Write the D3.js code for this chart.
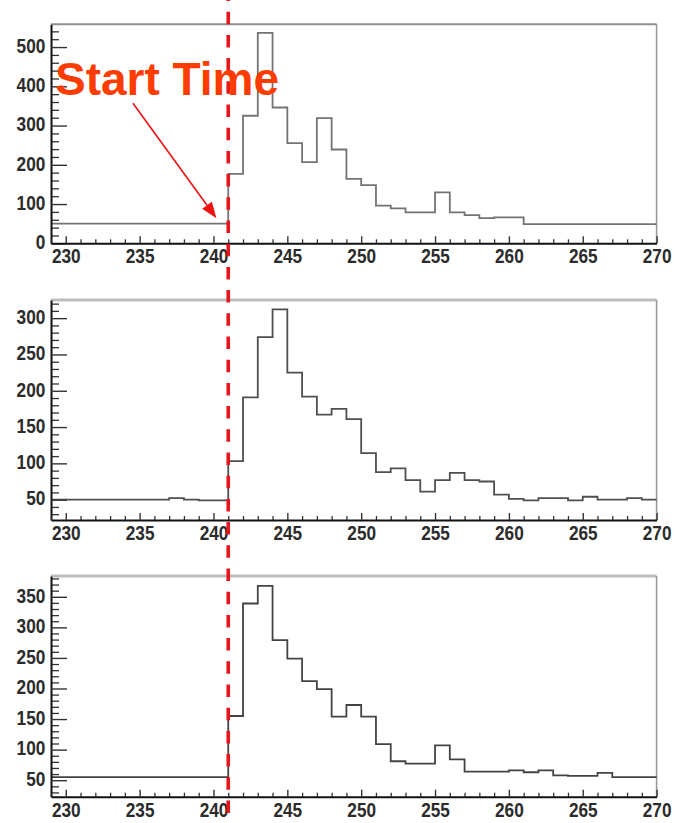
<!DOCTYPE html>
<html>
<head>
<meta charset="utf-8">
<script src="https://cdn.jsdelivr.net/npm/d3@7"></script>
<style>
  body { margin: 0; background: #fff; }
  svg { display: block; }
  .tick text { font-family: "Liberation Sans", Arial, sans-serif; font-weight: bold; font-size: 21px; fill: #2b2b2b; }
</style>
</head>
<body>
<svg id="chart" width="675" height="823"></svg>
<script>
// Time bins (lower edges), one unit wide, from 229 to 270
const binLow = d3.range(229, 270);
const xTicks = [230, 235, 240, 245, 250, 255, 260, 265, 270];

// Counts per bin, three channels
const countsA = [50,50,50,50,50,50,50,50,50,50,50,50,
  177,325,536,346,255,207,319,239,164,148,
  96,89,79,79,130,79,72,64,66,66,
  49,49,49,49,49,49,49,49,49];
const countsB = [50,50,50,50,50,50,50,50,52,50,49,49,
  103,191,274,312,225,192,167,175,161,114,
  88,93,77,61,77,87,77,75,57,51,
  49,52,52,49,54,50,50,52,50];
const countsC = [55,55,55,55,55,55,55,55,55,55,55,55,
  155,339,368,279,249,212,199,154,173,154,
  109,81,77,77,107,84,64,64,64,66,
  63,66,58,57,57,62,55,55,55];

// Y tick labels per channel
const yTicksA = [0, 100, 200, 300, 400, 500];
const yTicksB = [50, 100, 150, 200, 250, 300];
const yTicksC = [50, 100, 150, 200, 250, 300, 350];

const startTime = 241;
const startLabel = "Start Time";

const svg = d3.select("#chart");
const x = d3.scaleLinear().domain([229, 270]).range([51, 656.6]);

const panels = [
  { values: countsA, ticks: yTicksA, domain: [0, 558], top: 24.3, bottom: 243.3, minor: 20,
    line: "#737373", topColor: "#8f8f8f", topWidth: 2 },
  { values: countsB, ticks: yTicksB, domain: [22, 325], top: 300, bottom: 520, minor: 10,
    line: "#4f4f4f", topColor: "#bdbdbd", topWidth: 3 },
  { values: countsC, ticks: yTicksC, domain: [23, 384], top: 576, bottom: 796.7, minor: 10,
    line: "#444444", topColor: "#bdbdbd", topWidth: 3 }
];

const scales = [];

panels.forEach(p => {
  const y = d3.scaleLinear().domain(p.domain).range([p.bottom, p.top]);
  scales.push(y);
  const g = svg.append("g");

  // frame: top and right edges
  g.append("line").attr("x1", x.range()[0]).attr("x2", x.range()[1])
    .attr("y1", p.top).attr("y2", p.top)
    .attr("stroke", p.topColor).attr("stroke-width", p.topWidth);
  g.append("line").attr("x1", x.range()[1]).attr("x2", x.range()[1])
    .attr("y1", p.top).attr("y2", p.bottom)
    .attr("stroke", "#9a9a9a").attr("stroke-width", 1.6);

  // histogram as a step line
  const pts = binLow.map((b, i) => [b, p.values[i]]);
  pts.push([270, p.values[p.values.length - 1]]);
  const line = d3.line().x(d => x(d[0])).y(d => y(d[1])).curve(d3.curveStepAfter);
  g.append("path").attr("d", line(pts)).attr("fill", "none")
    .attr("stroke", p.line).attr("stroke-width", 1.8);

  // minor y ticks
  const minorY = d3.range(Math.ceil(p.domain[0] / p.minor) * p.minor, p.domain[1], p.minor)
    .filter(v => !p.ticks.includes(v));
  g.append("g").attr("transform", `translate(${x.range()[0]},0)`)
    .call(d3.axisLeft(y).tickValues(minorY).tickSize(-8).tickSizeOuter(0).tickFormat(""))
    .call(a => a.select(".domain").remove())
    .call(a => a.selectAll(".tick line").attr("stroke", "#333").attr("stroke-width", 1.3));

  // major y ticks and labels
  g.append("g").attr("transform", `translate(${x.range()[0]},0)`)
    .call(d3.axisLeft(y).tickValues(p.ticks).tickSize(-16).tickSizeOuter(0).tickPadding(7))
    .call(a => a.select(".domain").attr("stroke", "#111").attr("stroke-width", 2))
    .call(a => a.selectAll(".tick line").attr("stroke", "#333").attr("stroke-width", 1.4))
    .call(a => a.selectAll(".tick text").attr("transform", "scale(0.82,1)").attr("dy", "0.25em"));

  // minor x ticks
  g.append("g").attr("transform", `translate(0,${p.bottom})`)
    .call(d3.axisBottom(x).tickValues(d3.range(229, 271).filter(v => !xTicks.includes(v)))
      .tickSize(-4).tickSizeOuter(0).tickFormat(""))
    .call(a => a.select(".domain").remove())
    .call(a => a.selectAll(".tick line").attr("stroke", "#333").attr("stroke-width", 1.3));

  // major x ticks and labels
  g.append("g").attr("transform", `translate(0,${p.bottom})`)
    .call(d3.axisBottom(x).tickValues(xTicks).tickSize(-7).tickSizeOuter(0).tickPadding(5))
    .call(a => a.select(".domain").attr("stroke", "#111").attr("stroke-width", 2))
    .call(a => a.selectAll(".tick line").attr("stroke", "#333").attr("stroke-width", 1.4))
    .call(a => a.selectAll(".tick text").attr("transform", "scale(0.82,1)"));
});

// start-time marker across all panels
svg.append("line")
  .attr("x1", x(startTime)).attr("x2", x(startTime))
  .attr("y1", 0).attr("y2", 823)
  .attr("stroke", "#e8161c").attr("stroke-width", 3.6)
  .attr("stroke-dasharray", "12.5,10.7").attr("stroke-dashoffset", 11.5);

// annotation in the top panel
const yA = scales[0];
svg.append("text")
  .attr("x", x(229.27)).attr("y", yA(378))
  .attr("font-family", "Liberation Sans, Arial, sans-serif")
  .attr("font-weight", "bold").attr("font-size", 46)
  .attr("fill", "#ff3c00")
  .text(startLabel);

const ax0 = x(234.55), ay0 = yA(357), ax1 = x(240.2), ay1 = yA(64);
const ang = Math.atan2(ay1 - ay0, ax1 - ax0);
const headLen = 16, headHalf = 6;
const bx = ax1 - headLen * Math.cos(ang), by = ay1 - headLen * Math.sin(ang);
svg.append("line").attr("x1", ax0).attr("y1", ay0).attr("x2", bx).attr("y2", by)
  .attr("stroke", "#ee1111").attr("stroke-width", 1.6);
svg.append("path")
  .attr("d", `M${ax1},${ay1}L${bx - headHalf * Math.sin(ang)},${by + headHalf * Math.cos(ang)}L${bx + headHalf * Math.sin(ang)},${by - headHalf * Math.cos(ang)}Z`)
  .attr("fill", "#ee1111");
</script>
</body>
</html>
